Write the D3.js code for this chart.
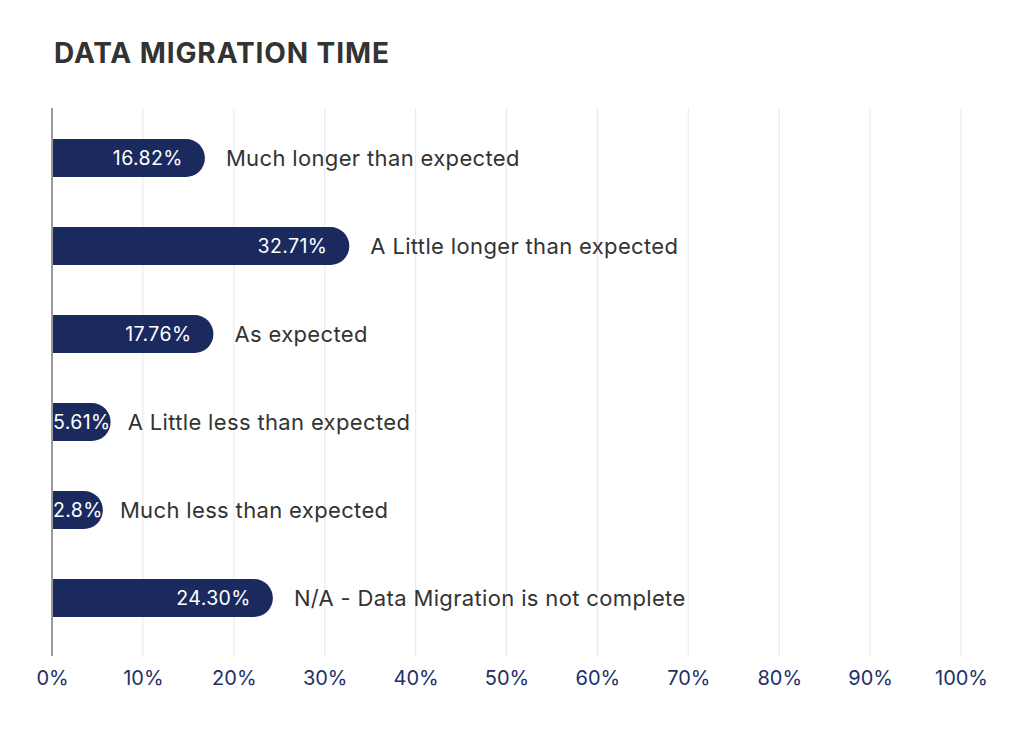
<!DOCTYPE html>
<html><head><meta charset="utf-8">
<script src="https://cdn.jsdelivr.net/npm/d3@7"></script>
<style>body{margin:0;background:#fff}svg{display:block}</style>
</head><body>
<svg id="c" width="1024" height="747"></svg>
<script>
const categories = ["Much longer than expected","A Little longer than expected","As expected","A Little less than expected","Much less than expected","N/A - Data Migration is not complete"];
const values = [16.82, 32.71, 17.76, 5.61, 2.8, 24.30];
const valueLabels = ["16.82%","32.71%","17.76%","5.61%","2.8%","24.30%"];
const ticks = [0,10,20,30,40,50,60,70,80,90,100];

const svg = d3.select("#c");
const x = d3.scaleLinear().domain([0,100]).range([52,961]);
const y = d3.scaleBand().domain(categories).range([114,642]).paddingInner(0.57).paddingOuter(0.285);

svg.append("text").attr("x",54).attr("y",63).text("DATA MIGRATION TIME")
  .attr("font-family","Inter, 'Open Sans', sans-serif").attr("font-weight",700)
  .attr("font-size",28).attr("fill","#333").attr("letter-spacing","0.9");

// grid
svg.append("g").selectAll("line").data(ticks.slice(1)).join("line")
  .attr("x1",d=>x(d)).attr("x2",d=>x(d)).attr("y1",108).attr("y2",656)
  .attr("stroke","#ebebeb").attr("stroke-width",1.2);

// x axis labels
const ax = svg.append("g").attr("transform","translate(0,656)")
  .call(d3.axisBottom(x).tickValues(ticks).tickFormat(d=>d+"%").tickSize(0).tickPadding(15));
ax.select(".domain").remove();
ax.selectAll("text").attr("font-family","Inter, sans-serif").attr("font-size",20)
  .attr("fill","#213069").attr("dy","0.72em");

const fontLbl = "Inter, sans-serif";
const g = svg.append("g");
const rows = g.selectAll("g").data(categories.map((c,i)=>({c,v:values[i],l:valueLabels[i]}))).join("g");

rows.each(function(d){
  const sel = d3.select(this);
  const h = y.bandwidth();
  const y0 = y(d.c);
  const t = sel.append("text").text(d.l).attr("font-family",fontLbl).attr("font-size",19.5)
    .attr("letter-spacing","0.4").attr("fill","#fff").attr("y",y0+h/2).attr("dy","0.36em");
  const tw = t.node().getComputedTextLength();
  let w = x(d.v)-x(0);
  let tx, anchor, gap = 21;
  if (w >= tw + 26) { tx = x(0)+w-22; anchor="end"; }
  else { w = Math.max(w, tw + 1); tx = x(0)+1; anchor="start"; gap = 17; }
  const r = h/2;
  const x0 = x(0);
  sel.insert("path","text").attr("d",
    `M${x0},${y0}H${x0+w-r}A${r},${r} 0 0 1 ${x0+w},${y0+r}A${r},${r} 0 0 1 ${x0+w-r},${y0+h}H${x0}Z`)
    .attr("fill","#1b2a5e");
  t.attr("x",tx).attr("text-anchor",anchor);
  sel.append("text").text(d.c).attr("x",x0+w+gap).attr("y",y0+h/2).attr("dy","0.37em")
    .attr("font-family",fontLbl).attr("font-size",22).attr("letter-spacing","0.35").attr("fill","#333");
});

// axis line
svg.append("line").attr("x1",52).attr("x2",52).attr("y1",108).attr("y2",656)
  .attr("stroke","#9a9a9a").attr("stroke-width",2);
</script>
</body></html>
